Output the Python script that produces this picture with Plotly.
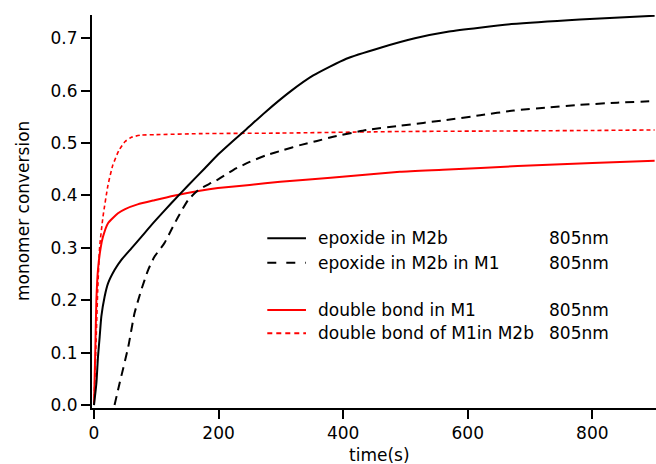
import plotly.graph_objects as go

# ---- data ----
t_epox_m2b = [0, 3.8, 6.4, 9.1, 11.8, 17.1, 22.5, 33.2, 43.9, 60, 76, 97, 124, 151, 178, 200, 224, 245, 275,
              317, 352, 405, 460, 515, 570, 670, 780, 900]
v_epox_m2b = [0, 0.041, 0.092, 0.130, 0.169, 0.207, 0.232, 0.258, 0.277, 0.299, 0.321, 0.350, 0.385, 0.419,
              0.452, 0.479, 0.505, 0.527, 0.559, 0.600, 0.629, 0.661, 0.682, 0.700, 0.713, 0.727, 0.736, 0.743]

t_epox_m2b_m1 = [33, 41, 55, 65, 76, 87, 97, 113, 124, 135, 151, 167, 185, 200, 224, 250, 277, 305, 331, 358,
                 384, 438, 491, 566, 620, 674, 730, 780, 840, 900]
v_epox_m2b_m1 = [0, 0.041, 0.111, 0.175, 0.22, 0.258, 0.283, 0.309, 0.334, 0.359, 0.391, 0.41, 0.422, 0.431,
                 0.449, 0.464, 0.477, 0.487, 0.496, 0.504, 0.512, 0.525, 0.533, 0.544, 0.553, 0.562, 0.568,
                 0.573, 0.577, 0.58]

t_db_m1 = [0, 2.1, 3.8, 6.5, 10.7, 14.4, 22.5, 38.5, 50, 70, 97, 130, 170, 199, 250, 299, 380, 491, 560, 680,
           800, 900]
v_db_m1 = [0, 0.105, 0.2, 0.26, 0.3, 0.321, 0.347, 0.366, 0.374, 0.383, 0.391, 0.400, 0.409, 0.414, 0.42,
           0.426, 0.434, 0.445, 0.449, 0.456, 0.462, 0.466]

t_db_m1_m2b = [0, 3, 6, 9.1, 14.4, 22.5, 30, 40, 50, 60, 75, 100, 170, 300, 491, 650, 800, 900]
v_db_m1_m2b = [0, 0.11, 0.22, 0.302, 0.359, 0.42, 0.457, 0.486, 0.503, 0.511, 0.515, 0.516, 0.518, 0.519,
               0.522, 0.523, 0.524, 0.525]

x_ticks = [0, 200, 400, 600, 800]
y_ticks = [0.0, 0.1, 0.2, 0.3, 0.4, 0.5, 0.6, 0.7]

legend_labels = ["epoxide in M2b", "epoxide in M2b in M1", "double bond in M1", "double bond of M1in M2b"]
legend_wavelength = ["805nm", "805nm", "805nm", "805nm"]

FONT = "DejaVu Sans"
FS = 17

fig = go.Figure()
fig.add_trace(go.Scatter(x=t_db_m1_m2b, y=v_db_m1_m2b, mode="lines",
                         line=dict(color="#ff0000", width=1.6, dash="4px,3px", shape="spline", smoothing=0.5)))
fig.add_trace(go.Scatter(x=t_db_m1, y=v_db_m1, mode="lines",
                         line=dict(color="#ff0000", width=2, shape="spline", smoothing=0.5)))
fig.add_trace(go.Scatter(x=t_epox_m2b_m1, y=v_epox_m2b_m1, mode="lines",
                         line=dict(color="black", width=2, dash="9px,6px", shape="spline", smoothing=0.5)))
fig.add_trace(go.Scatter(x=t_epox_m2b, y=v_epox_m2b, mode="lines",
                         line=dict(color="black", width=2, shape="spline", smoothing=0.5)))

# legend drawn manually (lines + text) to mimic the reference layout
rows_y = [0.4318, 0.3697, 0.2494, 0.1901]
styles = [("black", None, 2), ("black", "9px,10px", 2), ("#ff0000", None, 2), ("#ff0000", "5px,4px", 2)]
for yy, (col, dsh, w), lab, wl in zip(rows_y, styles, legend_labels, legend_wavelength):
    line = dict(color=col, width=w)
    if dsh:
        line["dash"] = dsh
    fig.add_shape(type="line", xref="paper", yref="paper", x0=0.3108, x1=0.3794, y0=yy, y1=yy, line=line)
    fig.add_annotation(xref="paper", yref="paper", x=0.3972, y=yy, text=lab, showarrow=False,
                       xanchor="left", yanchor="middle", font=dict(family=FONT, size=FS, color="black"))
    fig.add_annotation(xref="paper", yref="paper", x=0.8076, y=yy, text=wl, showarrow=False,
                       xanchor="left", yanchor="middle", font=dict(family=FONT, size=FS, color="black"))

# axis titles
fig.add_annotation(xref="paper", yref="paper", x=0.509, y=-0.119, text="time(s)", showarrow=False,
                   xanchor="center", yanchor="middle", font=dict(family=FONT, size=FS, color="black"))
fig.add_annotation(xref="paper", yref="paper", x=-0.1232, y=0.5, text="monomer conversion", showarrow=False,
                   textangle=-90, xanchor="center", yanchor="middle",
                   font=dict(family=FONT, size=FS, color="black"))

fig.update_layout(
    width=656, height=464,
    margin=dict(l=92, r=0, t=15, b=56),
    paper_bgcolor="white", plot_bgcolor="white",
    showlegend=False,
    font=dict(family=FONT, size=FS, color="black"),
    xaxis=dict(range=[-3.21, 902.2], tickvals=x_ticks, ticktext=[str(v) for v in x_ticks],
               showgrid=False, zeroline=False, showline=True, linecolor="black", linewidth=2,
               ticks="outside", ticklen=9, tickwidth=1.5, tickcolor="black"),
    yaxis=dict(range=[-0.0057, 0.7444], tickvals=y_ticks, ticktext=[f"{v:.1f}" for v in y_ticks],
               showgrid=False, zeroline=False, showline=True, linecolor="black", linewidth=2,
               ticks="outside", ticklen=9, tickwidth=1.5, tickcolor="black"),
)

fig.write_html("out.html")
